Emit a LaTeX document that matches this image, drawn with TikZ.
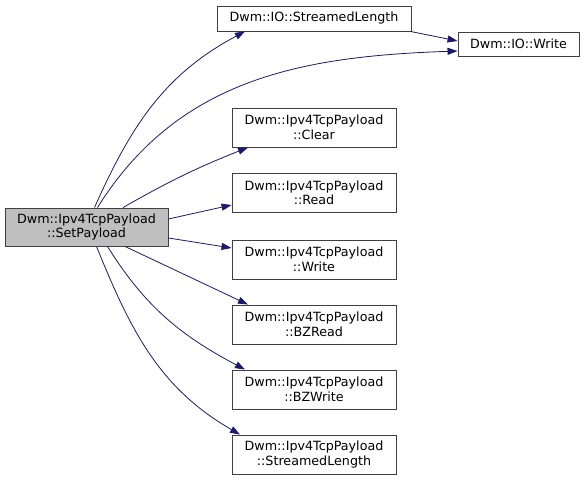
\documentclass[tikz,border=0pt]{standalone}
\usepackage{fontspec}
\setmainfont{DejaVu Sans}
\usetikzlibrary{arrows.meta}
\definecolor{edgeblue}{HTML}{191970}
\definecolor{rootgray}{HTML}{BFBFBF}
\definecolor{boxline}{HTML}{404040}
\tikzset{
  fnode/.style = {shape=rectangle, draw=boxline, line width=0.9pt, fill=white,
                  align=center, inner sep=0pt, font=\fontsize{12.7}{14.5}\selectfont},
  root/.style  = {fnode, fill=rootgray},
  pnode/.style = {fnode, minimum width=164pt, minimum height=39pt},
  call/.style  = {draw=edgeblue, line width=0.8pt,
                  -{Triangle[length=10pt,width=7pt]}}
}

\begin{document}
\begin{tikzpicture}[x=1pt, y=1pt]
  \useasboundingbox (0,0) rectangle (584,481);

  % caller
  \node [root, minimum width=163pt, minimum height=38pt] (sp) at (86.5,254)
        {Dwm::Ipv4TcpPayload\\::SetPayload};

  % Dwm::IO
  \node [fnode, minimum width=194pt, minimum height=25pt] (ioSL) at (314,462.5)
        {Dwm::IO::StreamedLength};
  \node [fnode, minimum width=121pt, minimum height=24pt] (ioW) at (518.5,437)
        {Dwm::IO::Write};

  % Dwm::Ipv4TcpPayload members
  \node [pnode] (clear) at (314,353.5) {Dwm::Ipv4TcpPayload\\::Clear};
  \node [pnode] (read)  at (314,288)   {Dwm::Ipv4TcpPayload\\::Read};
  \node [pnode] (write) at (314,221.5) {Dwm::Ipv4TcpPayload\\::Write};
  \node [pnode] (bzr)   at (314,156.5) {Dwm::Ipv4TcpPayload\\::BZRead};
  \node [pnode] (bzw)   at (314,91.5)  {Dwm::Ipv4TcpPayload\\::BZWrite};
  \node [pnode] (psl)   at (314,26.5)  {Dwm::Ipv4TcpPayload\\::StreamedLength};

  % calls
  \draw [call] ([xshift=8]sp.north) to[out=66, in=208] ([xshift=-69]ioSL.south);
  \draw [call] ([xshift=11]sp.north) to[out=58, in=182] ([yshift=-7]ioW.west);
  \draw [call] ([xshift=-1]ioSL.south east) -- ([yshift=3]ioW.west);
  \draw [call] ([xshift=36.5]sp.north) to[bend left=4] ([xshift=-66]clear.south);
  \draw [call] ([yshift=8]sp.east) -- ([yshift=-12]read.west);
  \draw [call] ([yshift=-11]sp.east) -- ([yshift=11.5]write.west);
  \draw [call] ([xshift=38.5]sp.south) -- ([xshift=-66]bzr.north);
  \draw [call] ([xshift=21]sp.south) to[out=-58, in=152] ([xshift=-69]bzw.north);
  \draw [call] ([xshift=10]sp.south) to[out=-68, in=150] ([xshift=-74]psl.north);

\end{tikzpicture}
\end{document}
